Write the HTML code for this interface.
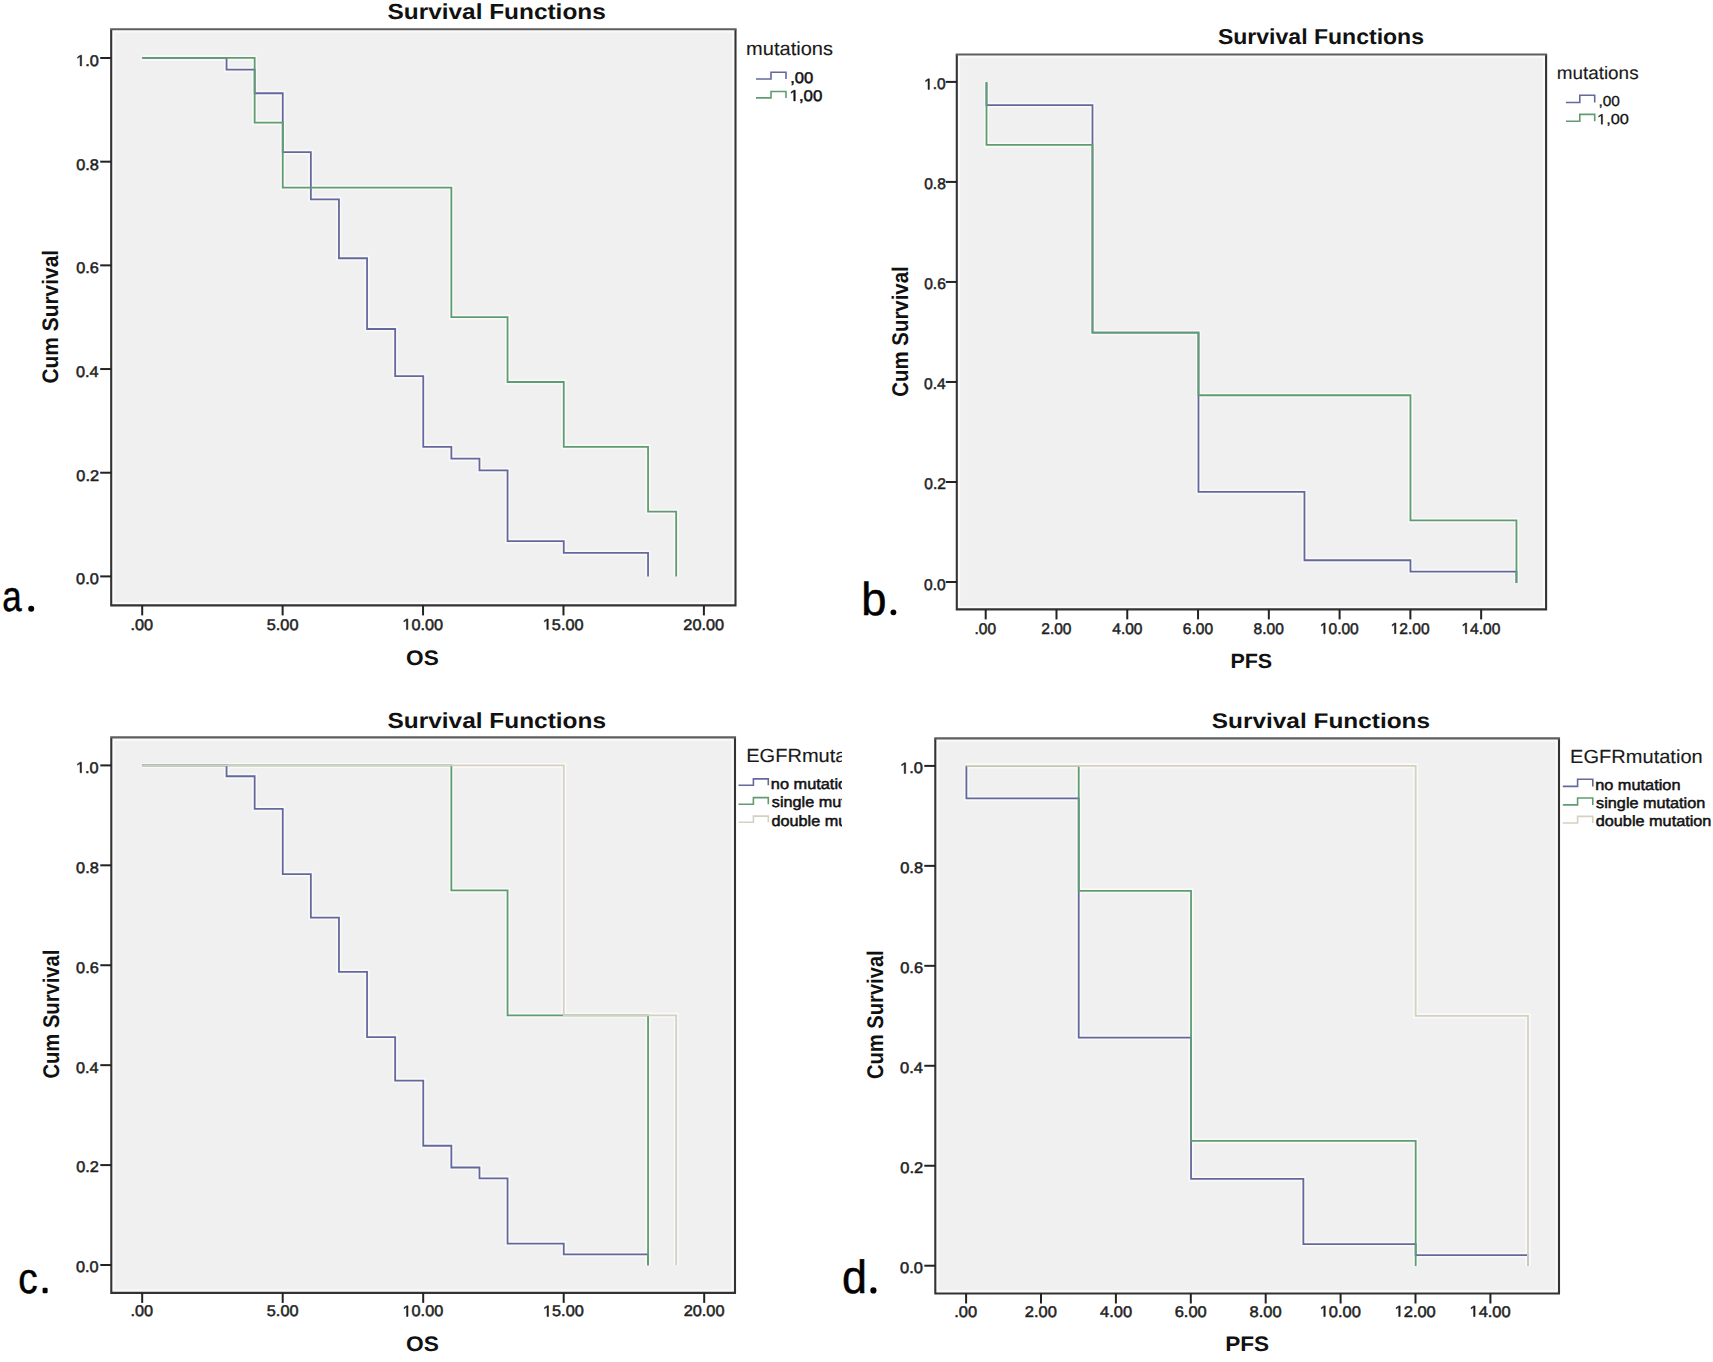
<!DOCTYPE html>
<html><head><meta charset="utf-8"><title>Survival Functions</title>
<style>
html,body{margin:0;padding:0;background:#fff;}
body{width:1713px;height:1362px;overflow:hidden;}
svg{display:block;}
text{font-family:"Liberation Sans",sans-serif;text-rendering:geometricPrecision;}
</style></head><body>
<svg width="1713" height="1362" viewBox="0 0 1713 1362">
<rect width="1713" height="1362" fill="#fff"/>
<defs><clipPath id="clipc"><rect x="736" y="740" width="106" height="100"/></clipPath></defs>
<rect x="111.2" y="29.2" width="624.3" height="576.1999999999999" fill="#fafafa"/>
<rect x="114.50" y="32.50" width="617.70" height="569.60" fill="#f0f0f0"/>
<path d="M142.26,57.90H226.56V69.69H254.66V93.26H282.76V152.19H310.86V199.34H338.96V258.27H367.06V328.99H395.16V376.13H423.26V446.85H451.36V458.64H479.46V470.42H507.56V541.14H563.76V552.93H648.06V576.50" fill="none" stroke="#f8f9f8" stroke-width="5" stroke-linejoin="miter"/>
<path d="M142.26,57.90H254.66V122.72H282.76V187.55H451.36V317.20H507.56V382.02H563.76V446.85H648.06V511.68H676.16V576.50" fill="none" stroke="#f8f9f8" stroke-width="5" stroke-linejoin="miter"/>
<path d="M142.26,57.90H226.56V69.69H254.66V93.26H282.76V152.19H310.86V199.34H338.96V258.27H367.06V328.99H395.16V376.13H423.26V446.85H451.36V458.64H479.46V470.42H507.56V541.14H563.76V552.93H648.06V576.50" fill="none" stroke="#64699d" stroke-width="1.8" stroke-linejoin="miter" stroke-linecap="butt"/>
<path d="M142.26,57.90H254.66V122.72H282.76V187.55H451.36V317.20H507.56V382.02H563.76V446.85H648.06V511.68H676.16V576.50" fill="none" stroke="#5f9d70" stroke-width="1.8" stroke-linejoin="miter" stroke-linecap="butt"/>
<path d="M111.2,29.2V605.4H735.5V29.2" fill="none" stroke="#333" stroke-width="2.1" stroke-linejoin="miter"/>
<line x1="110.15" y1="29.2" x2="736.55" y2="29.2" stroke="#5e5e5e" stroke-width="2.1"/>
<line x1="100.2" y1="576.40" x2="111.2" y2="576.40" stroke="#222" stroke-width="2"/>
<text x="0" y="0" transform="translate(76.08,584.30) scale(1.0600,1)" font-size="15.40" font-weight="normal" fill="#1e1e1e" stroke="#1e1e1e" stroke-width="0.5" >0.0</text>
<line x1="100.2" y1="472.72" x2="111.2" y2="472.72" stroke="#222" stroke-width="2"/>
<text x="0" y="0" transform="translate(76.33,480.62) scale(1.0600,1)" font-size="15.40" font-weight="normal" fill="#1e1e1e" stroke="#1e1e1e" stroke-width="0.5" >0.2</text>
<line x1="100.2" y1="369.04" x2="111.2" y2="369.04" stroke="#222" stroke-width="2"/>
<text x="0" y="0" transform="translate(76.00,376.94) scale(1.0600,1)" font-size="15.40" font-weight="normal" fill="#1e1e1e" stroke="#1e1e1e" stroke-width="0.5" >0.4</text>
<line x1="100.2" y1="265.36" x2="111.2" y2="265.36" stroke="#222" stroke-width="2"/>
<text x="0" y="0" transform="translate(76.16,273.26) scale(1.0600,1)" font-size="15.40" font-weight="normal" fill="#1e1e1e" stroke="#1e1e1e" stroke-width="0.5" >0.6</text>
<line x1="100.2" y1="161.68" x2="111.2" y2="161.68" stroke="#222" stroke-width="2"/>
<text x="0" y="0" transform="translate(76.16,169.58) scale(1.0600,1)" font-size="15.40" font-weight="normal" fill="#1e1e1e" stroke="#1e1e1e" stroke-width="0.5" >0.8</text>
<line x1="100.2" y1="58.00" x2="111.2" y2="58.00" stroke="#222" stroke-width="2"/>
<text x="0" y="0" transform="translate(76.08,65.90) scale(1.0600,1)" font-size="15.40" fill="#1e1e1e" stroke="#1e1e1e" stroke-width="0.5" > .0</text>
<path d="M696,0H515V1237L197,1010V1180L530,1409H696Z" transform="translate(76.08,65.90) scale(0.00797,-0.00752)" fill="#1e1e1e" stroke="#1e1e1e" stroke-width="0.5" vector-effect="non-scaling-stroke"/>
<line x1="142.20" y1="605.4" x2="142.20" y2="615.4" stroke="#222" stroke-width="2"/>
<text x="0" y="0" transform="translate(130.41,629.60) scale(1.0600,1)" font-size="15.40" font-weight="normal" fill="#1e1e1e" stroke="#1e1e1e" stroke-width="0.5" >.00</text>
<line x1="282.62" y1="605.4" x2="282.62" y2="615.4" stroke="#222" stroke-width="2"/>
<text x="0" y="0" transform="translate(266.71,629.60) scale(1.0600,1)" font-size="15.40" font-weight="normal" fill="#1e1e1e" stroke="#1e1e1e" stroke-width="0.5" >5.00</text>
<line x1="423.05" y1="605.4" x2="423.05" y2="615.4" stroke="#222" stroke-width="2"/>
<text x="0" y="0" transform="translate(402.32,629.60) scale(1.0600,1)" font-size="15.40" fill="#1e1e1e" stroke="#1e1e1e" stroke-width="0.5" > 0.00</text>
<path d="M696,0H515V1237L197,1010V1180L530,1409H696Z" transform="translate(402.32,629.60) scale(0.00797,-0.00752)" fill="#1e1e1e" stroke="#1e1e1e" stroke-width="0.5" vector-effect="non-scaling-stroke"/>
<line x1="563.48" y1="605.4" x2="563.48" y2="615.4" stroke="#222" stroke-width="2"/>
<text x="0" y="0" transform="translate(542.74,629.60) scale(1.0600,1)" font-size="15.40" fill="#1e1e1e" stroke="#1e1e1e" stroke-width="0.5" > 5.00</text>
<path d="M696,0H515V1237L197,1010V1180L530,1409H696Z" transform="translate(542.74,629.60) scale(0.00797,-0.00752)" fill="#1e1e1e" stroke="#1e1e1e" stroke-width="0.5" vector-effect="non-scaling-stroke"/>
<line x1="703.90" y1="605.4" x2="703.90" y2="615.4" stroke="#222" stroke-width="2"/>
<text x="0" y="0" transform="translate(683.37,629.60) scale(1.0600,1)" font-size="15.40" font-weight="normal" fill="#1e1e1e" stroke="#1e1e1e" stroke-width="0.5" >20.00</text>
<text x="0" y="0" transform="translate(387.47,18.78) scale(1.1211,1)" font-size="21.77" font-weight="bold" fill="#111" >Survival Functions</text>
<text x="0" y="0" transform="translate(406.09,665.19) scale(1.0782,1)" font-size="20.99" font-weight="bold" fill="#111" >OS</text>
<text x="0" y="0" transform="translate(57.98,383.54) rotate(-90) scale(0.9320,1)" font-size="22.45" font-weight="bold" fill="#111">Cum Survival</text>
<text x="0" y="0" transform="translate(746.10,54.60) scale(1.0551,1)" font-size="19.00" font-weight="normal" fill="#1a1a1a" stroke="#1a1a1a" stroke-width="0.12" >mutations</text>
<path d="M756,79H771V72.3H786V79" fill="none" stroke="#64699d" stroke-width="1.6"/>
<text x="0" y="0" transform="translate(790.21,82.80) scale(1.0710,1)" font-size="15.50" font-weight="normal" fill="#111" stroke="#111" stroke-width="0.5" >,00</text>
<path d="M756,97.9H771V91.5H786V97.9" fill="none" stroke="#5f9d70" stroke-width="1.6"/>
<text x="0" y="0" transform="translate(789.54,100.90) scale(1.0864,1)" font-size="15.50" fill="#111" stroke="#111" stroke-width="0.5" > ,00</text>
<path d="M696,0H515V1237L197,1010V1180L530,1409H696Z" transform="translate(789.54,100.90) scale(0.00822,-0.00757)" fill="#111" stroke="#111" stroke-width="0.5" vector-effect="non-scaling-stroke"/>
<text x="0" y="0" transform="translate(2.20,611.17) scale(0.8215,1)" font-size="42.55" font-weight="normal" fill="#000" stroke="#000" stroke-width="0.5" >a</text>
<circle cx="31.2" cy="608.65" r="3.0" fill="#000"/>
<rect x="956.8" y="54.5" width="589.3" height="554.9" fill="#fafafa"/>
<rect x="960.10" y="57.80" width="582.70" height="548.30" fill="#f0f0f0"/>
<path d="M986.50,82.30H986.50V105.06H1092.49V332.65H1198.48V491.96H1304.47V560.24H1410.46V571.62H1516.45V583.00" fill="none" stroke="#f8f9f8" stroke-width="5" stroke-linejoin="miter"/>
<path d="M986.50,82.30H986.50V144.89H1092.49V332.65H1198.48V395.24H1410.46V520.41H1516.45V583.00" fill="none" stroke="#f8f9f8" stroke-width="5" stroke-linejoin="miter"/>
<path d="M986.50,82.30H986.50V105.06H1092.49V332.65H1198.48V491.96H1304.47V560.24H1410.46V571.62H1516.45V583.00" fill="none" stroke="#64699d" stroke-width="1.8" stroke-linejoin="miter" stroke-linecap="butt"/>
<path d="M986.50,82.30H986.50V144.89H1092.49V332.65H1198.48V395.24H1410.46V520.41H1516.45V583.00" fill="none" stroke="#5f9d70" stroke-width="1.8" stroke-linejoin="miter" stroke-linecap="butt"/>
<path d="M956.8,54.5V609.4H1546.1V54.5" fill="none" stroke="#333" stroke-width="2.1" stroke-linejoin="miter"/>
<line x1="955.75" y1="54.5" x2="1547.15" y2="54.5" stroke="#5e5e5e" stroke-width="2.1"/>
<line x1="945.8" y1="582.00" x2="956.8" y2="582.00" stroke="#222" stroke-width="2"/>
<text x="0" y="0" transform="translate(924.12,589.50) scale(1.0100,1)" font-size="15.40" font-weight="normal" fill="#1e1e1e" stroke="#1e1e1e" stroke-width="0.5" >0.0</text>
<line x1="945.8" y1="481.98" x2="956.8" y2="481.98" stroke="#222" stroke-width="2"/>
<text x="0" y="0" transform="translate(924.36,489.48) scale(1.0100,1)" font-size="15.40" font-weight="normal" fill="#1e1e1e" stroke="#1e1e1e" stroke-width="0.5" >0.2</text>
<line x1="945.8" y1="381.96" x2="956.8" y2="381.96" stroke="#222" stroke-width="2"/>
<text x="0" y="0" transform="translate(924.05,389.46) scale(1.0100,1)" font-size="15.40" font-weight="normal" fill="#1e1e1e" stroke="#1e1e1e" stroke-width="0.5" >0.4</text>
<line x1="945.8" y1="281.94" x2="956.8" y2="281.94" stroke="#222" stroke-width="2"/>
<text x="0" y="0" transform="translate(924.20,289.44) scale(1.0100,1)" font-size="15.40" font-weight="normal" fill="#1e1e1e" stroke="#1e1e1e" stroke-width="0.5" >0.6</text>
<line x1="945.8" y1="181.92" x2="956.8" y2="181.92" stroke="#222" stroke-width="2"/>
<text x="0" y="0" transform="translate(924.20,189.42) scale(1.0100,1)" font-size="15.40" font-weight="normal" fill="#1e1e1e" stroke="#1e1e1e" stroke-width="0.5" >0.8</text>
<line x1="945.8" y1="81.90" x2="956.8" y2="81.90" stroke="#222" stroke-width="2"/>
<text x="0" y="0" transform="translate(924.12,89.40) scale(1.0100,1)" font-size="15.40" fill="#1e1e1e" stroke="#1e1e1e" stroke-width="0.5" > .0</text>
<path d="M696,0H515V1237L197,1010V1180L530,1409H696Z" transform="translate(924.12,89.40) scale(0.00759,-0.00752)" fill="#1e1e1e" stroke="#1e1e1e" stroke-width="0.5" vector-effect="non-scaling-stroke"/>
<line x1="985.70" y1="609.4" x2="985.70" y2="619.4" stroke="#222" stroke-width="2"/>
<text x="0" y="0" transform="translate(974.46,633.70) scale(1.0100,1)" font-size="15.40" font-weight="normal" fill="#1e1e1e" stroke="#1e1e1e" stroke-width="0.5" >.00</text>
<line x1="1056.48" y1="609.4" x2="1056.48" y2="619.4" stroke="#222" stroke-width="2"/>
<text x="0" y="0" transform="translate(1041.24,633.70) scale(1.0100,1)" font-size="15.40" font-weight="normal" fill="#1e1e1e" stroke="#1e1e1e" stroke-width="0.5" >2.00</text>
<line x1="1127.26" y1="609.4" x2="1127.26" y2="619.4" stroke="#222" stroke-width="2"/>
<text x="0" y="0" transform="translate(1112.25,633.70) scale(1.0100,1)" font-size="15.40" font-weight="normal" fill="#1e1e1e" stroke="#1e1e1e" stroke-width="0.5" >4.00</text>
<line x1="1198.04" y1="609.4" x2="1198.04" y2="619.4" stroke="#222" stroke-width="2"/>
<text x="0" y="0" transform="translate(1182.80,633.70) scale(1.0100,1)" font-size="15.40" font-weight="normal" fill="#1e1e1e" stroke="#1e1e1e" stroke-width="0.5" >6.00</text>
<line x1="1268.82" y1="609.4" x2="1268.82" y2="619.4" stroke="#222" stroke-width="2"/>
<text x="0" y="0" transform="translate(1253.62,633.70) scale(1.0100,1)" font-size="15.40" font-weight="normal" fill="#1e1e1e" stroke="#1e1e1e" stroke-width="0.5" >8.00</text>
<line x1="1339.60" y1="609.4" x2="1339.60" y2="619.4" stroke="#222" stroke-width="2"/>
<text x="0" y="0" transform="translate(1319.85,633.70) scale(1.0100,1)" font-size="15.40" fill="#1e1e1e" stroke="#1e1e1e" stroke-width="0.5" > 0.00</text>
<path d="M696,0H515V1237L197,1010V1180L530,1409H696Z" transform="translate(1319.85,633.70) scale(0.00759,-0.00752)" fill="#1e1e1e" stroke="#1e1e1e" stroke-width="0.5" vector-effect="non-scaling-stroke"/>
<line x1="1410.38" y1="609.4" x2="1410.38" y2="619.4" stroke="#222" stroke-width="2"/>
<text x="0" y="0" transform="translate(1390.63,633.70) scale(1.0100,1)" font-size="15.40" fill="#1e1e1e" stroke="#1e1e1e" stroke-width="0.5" > 2.00</text>
<path d="M696,0H515V1237L197,1010V1180L530,1409H696Z" transform="translate(1390.63,633.70) scale(0.00759,-0.00752)" fill="#1e1e1e" stroke="#1e1e1e" stroke-width="0.5" vector-effect="non-scaling-stroke"/>
<line x1="1481.16" y1="609.4" x2="1481.16" y2="619.4" stroke="#222" stroke-width="2"/>
<text x="0" y="0" transform="translate(1461.41,633.70) scale(1.0100,1)" font-size="15.40" fill="#1e1e1e" stroke="#1e1e1e" stroke-width="0.5" > 4.00</text>
<path d="M696,0H515V1237L197,1010V1180L530,1409H696Z" transform="translate(1461.41,633.70) scale(0.00759,-0.00752)" fill="#1e1e1e" stroke="#1e1e1e" stroke-width="0.5" vector-effect="non-scaling-stroke"/>
<text x="0" y="0" transform="translate(1217.91,44.18) scale(1.0652,1)" font-size="21.63" font-weight="bold" fill="#111" >Survival Functions</text>
<text x="0" y="0" transform="translate(1230.40,667.89) scale(1.0464,1)" font-size="20.56" font-weight="bold" fill="#111" >PFS</text>
<text x="0" y="0" transform="translate(908.27,396.72) rotate(-90) scale(0.8984,1)" font-size="22.72" font-weight="bold" fill="#111">Cum Survival</text>
<text x="0" y="0" transform="translate(1556.67,78.50) scale(1.0495,1)" font-size="18.00" font-weight="normal" fill="#1a1a1a" stroke="#1a1a1a" stroke-width="0.12" >mutations</text>
<path d="M1566,102.5H1579.8V95.3H1594.7V102.5" fill="none" stroke="#64699d" stroke-width="1.6"/>
<text x="0" y="0" transform="translate(1598.41,106.30) scale(1.0631,1)" font-size="14.50" font-weight="normal" fill="#111" stroke="#111" stroke-width="0.25" >,00</text>
<path d="M1566,121.3H1579.8V114.4H1594.7V121.3" fill="none" stroke="#5f9d70" stroke-width="1.6"/>
<text x="0" y="0" transform="translate(1597.07,124.30) scale(1.1275,1)" font-size="14.50" fill="#111" stroke="#111" stroke-width="0.25" > ,00</text>
<path d="M696,0H515V1237L197,1010V1180L530,1409H696Z" transform="translate(1597.07,124.30) scale(0.00798,-0.00708)" fill="#111" stroke="#111" stroke-width="0.25" vector-effect="non-scaling-stroke"/>
<text x="0" y="0" transform="translate(861.25,614.74) scale(0.9800,1)" font-size="46.26" font-weight="normal" fill="#000" stroke="#000" stroke-width="0.5" >b</text>
<circle cx="893.4" cy="612.3" r="2.9" fill="#000"/>
<rect x="111.3" y="737.4" width="623.7" height="555.5000000000001" fill="#fafafa"/>
<rect x="114.60" y="740.70" width="617.10" height="548.90" fill="#f0f0f0"/>
<path d="M142.26,765.40H226.56V776.27H254.66V808.87H282.76V874.07H310.86V917.54H338.96V971.88H367.06V1037.08H395.16V1080.55H423.26V1145.76H451.36V1167.49H479.46V1178.36H507.56V1243.57H563.76V1254.43H648.06V1265.30" fill="none" stroke="#f8f9f8" stroke-width="5" stroke-linejoin="miter"/>
<path d="M142.26,765.40H451.36V890.38H507.56V1015.35H648.06V1265.30" fill="none" stroke="#f8f9f8" stroke-width="5" stroke-linejoin="miter"/>
<path d="M142.26,765.40H563.76V1015.35H676.16V1265.30" fill="none" stroke="#f8f9f8" stroke-width="5" stroke-linejoin="miter"/>
<path d="M142.26,765.40H226.56V776.27H254.66V808.87H282.76V874.07H310.86V917.54H338.96V971.88H367.06V1037.08H395.16V1080.55H423.26V1145.76H451.36V1167.49H479.46V1178.36H507.56V1243.57H563.76V1254.43H648.06V1265.30" fill="none" stroke="#64699d" stroke-width="1.8" stroke-linejoin="miter" stroke-linecap="butt"/>
<path d="M142.26,765.40H451.36V890.38H507.56V1015.35H648.06V1265.30" fill="none" stroke="#5f9d70" stroke-width="1.8" stroke-linejoin="miter" stroke-linecap="butt"/>
<path d="M142.26,765.40H563.76V1015.35H676.16V1265.30" fill="none" stroke="#d5d1c0" stroke-width="1.8" stroke-linejoin="miter" stroke-linecap="butt"/>
<path d="M111.3,737.4V1292.9H735.0V737.4" fill="none" stroke="#333" stroke-width="2.1" stroke-linejoin="miter"/>
<line x1="110.25" y1="737.4" x2="736.05" y2="737.4" stroke="#5e5e5e" stroke-width="2.1"/>
<line x1="100.3" y1="1265.00" x2="111.3" y2="1265.00" stroke="#222" stroke-width="2"/>
<text x="0" y="0" transform="translate(75.98,1272.40) scale(1.0600,1)" font-size="15.40" font-weight="normal" fill="#1e1e1e" stroke="#1e1e1e" stroke-width="0.5" >0.0</text>
<line x1="100.3" y1="1165.08" x2="111.3" y2="1165.08" stroke="#222" stroke-width="2"/>
<text x="0" y="0" transform="translate(76.23,1172.48) scale(1.0600,1)" font-size="15.40" font-weight="normal" fill="#1e1e1e" stroke="#1e1e1e" stroke-width="0.5" >0.2</text>
<line x1="100.3" y1="1065.16" x2="111.3" y2="1065.16" stroke="#222" stroke-width="2"/>
<text x="0" y="0" transform="translate(75.90,1072.56) scale(1.0600,1)" font-size="15.40" font-weight="normal" fill="#1e1e1e" stroke="#1e1e1e" stroke-width="0.5" >0.4</text>
<line x1="100.3" y1="965.24" x2="111.3" y2="965.24" stroke="#222" stroke-width="2"/>
<text x="0" y="0" transform="translate(76.06,972.64) scale(1.0600,1)" font-size="15.40" font-weight="normal" fill="#1e1e1e" stroke="#1e1e1e" stroke-width="0.5" >0.6</text>
<line x1="100.3" y1="865.32" x2="111.3" y2="865.32" stroke="#222" stroke-width="2"/>
<text x="0" y="0" transform="translate(76.06,872.72) scale(1.0600,1)" font-size="15.40" font-weight="normal" fill="#1e1e1e" stroke="#1e1e1e" stroke-width="0.5" >0.8</text>
<line x1="100.3" y1="765.40" x2="111.3" y2="765.40" stroke="#222" stroke-width="2"/>
<text x="0" y="0" transform="translate(75.98,772.80) scale(1.0600,1)" font-size="15.40" fill="#1e1e1e" stroke="#1e1e1e" stroke-width="0.5" > .0</text>
<path d="M696,0H515V1237L197,1010V1180L530,1409H696Z" transform="translate(75.98,772.80) scale(0.00797,-0.00752)" fill="#1e1e1e" stroke="#1e1e1e" stroke-width="0.5" vector-effect="non-scaling-stroke"/>
<line x1="142.20" y1="1292.9" x2="142.20" y2="1302.9" stroke="#222" stroke-width="2"/>
<text x="0" y="0" transform="translate(130.41,1316.40) scale(1.0600,1)" font-size="15.40" font-weight="normal" fill="#1e1e1e" stroke="#1e1e1e" stroke-width="0.5" >.00</text>
<line x1="282.70" y1="1292.9" x2="282.70" y2="1302.9" stroke="#222" stroke-width="2"/>
<text x="0" y="0" transform="translate(266.78,1316.40) scale(1.0600,1)" font-size="15.40" font-weight="normal" fill="#1e1e1e" stroke="#1e1e1e" stroke-width="0.5" >5.00</text>
<line x1="423.20" y1="1292.9" x2="423.20" y2="1302.9" stroke="#222" stroke-width="2"/>
<text x="0" y="0" transform="translate(402.47,1316.40) scale(1.0600,1)" font-size="15.40" fill="#1e1e1e" stroke="#1e1e1e" stroke-width="0.5" > 0.00</text>
<path d="M696,0H515V1237L197,1010V1180L530,1409H696Z" transform="translate(402.47,1316.40) scale(0.00797,-0.00752)" fill="#1e1e1e" stroke="#1e1e1e" stroke-width="0.5" vector-effect="non-scaling-stroke"/>
<line x1="563.70" y1="1292.9" x2="563.70" y2="1302.9" stroke="#222" stroke-width="2"/>
<text x="0" y="0" transform="translate(542.97,1316.40) scale(1.0600,1)" font-size="15.40" fill="#1e1e1e" stroke="#1e1e1e" stroke-width="0.5" > 5.00</text>
<path d="M696,0H515V1237L197,1010V1180L530,1409H696Z" transform="translate(542.97,1316.40) scale(0.00797,-0.00752)" fill="#1e1e1e" stroke="#1e1e1e" stroke-width="0.5" vector-effect="non-scaling-stroke"/>
<line x1="704.20" y1="1292.9" x2="704.20" y2="1302.9" stroke="#222" stroke-width="2"/>
<text x="0" y="0" transform="translate(683.67,1316.40) scale(1.0600,1)" font-size="15.40" font-weight="normal" fill="#1e1e1e" stroke="#1e1e1e" stroke-width="0.5" >20.00</text>
<text x="0" y="0" transform="translate(387.47,727.88) scale(1.1222,1)" font-size="21.77" font-weight="bold" fill="#111" >Survival Functions</text>
<text x="0" y="0" transform="translate(405.99,1350.79) scale(1.0852,1)" font-size="20.99" font-weight="bold" fill="#111" >OS</text>
<text x="0" y="0" transform="translate(58.77,1078.51) rotate(-90) scale(0.8872,1)" font-size="22.72" font-weight="bold" fill="#111">Cum Survival</text>
<g clip-path="url(#clipc)">
<text x="0" y="0" transform="translate(746.20,762.20) scale(1.0551,1)" font-size="19.00" font-weight="normal" fill="#1a1a1a" stroke="#1a1a1a" stroke-width="0.12" >EGFRmutation</text>
<path d="M738.5,785.3H753.4V778.9H768.3V785.3" fill="none" stroke="#64699d" stroke-width="1.6"/>
<text x="0" y="0" transform="translate(770.84,788.90) scale(1.0886,1)" font-size="15.00" font-weight="normal" fill="#111" stroke="#111" stroke-width="0.5" >no mutation</text>
<path d="M738.5,804.3H753.4V797.6H768.3V804.3" fill="none" stroke="#5f9d70" stroke-width="1.6"/>
<text x="0" y="0" transform="translate(771.81,806.90) scale(1.0820,1)" font-size="15.00" font-weight="normal" fill="#111" stroke="#111" stroke-width="0.5" >single mutation</text>
<path d="M738.5,822.3H753.4V816.1H768.3V822.3" fill="none" stroke="#d5d1c0" stroke-width="1.6"/>
<text x="0" y="0" transform="translate(771.45,825.60) scale(1.0832,1)" font-size="15.00" font-weight="normal" fill="#111" stroke="#111" stroke-width="0.5" >double mutation</text>
</g>
<text x="0" y="0" transform="translate(18.35,1292.97) scale(0.9054,1)" font-size="42.91" font-weight="normal" fill="#000" stroke="#000" stroke-width="0.5" >c</text>
<rect x="42.6" y="1287.8" width="5.0" height="5.5" rx="1.2" fill="#000"/>
<rect x="935.3" y="738.4" width="623.7" height="555.1" fill="#fafafa"/>
<rect x="938.60" y="741.70" width="617.10" height="548.50" fill="#f0f0f0"/>
<path d="M966.40,765.80H966.40V798.42H1078.72V1037.59H1191.04V1178.93H1303.36V1244.16H1415.68V1255.03H1528.00V1265.90" fill="none" stroke="#f8f9f8" stroke-width="5" stroke-linejoin="miter"/>
<path d="M966.40,765.80H1078.72V890.83H1191.04V1140.88H1415.68V1265.90" fill="none" stroke="#f8f9f8" stroke-width="5" stroke-linejoin="miter"/>
<path d="M966.40,765.80H1415.68V1015.85H1528.00V1265.90" fill="none" stroke="#f8f9f8" stroke-width="5" stroke-linejoin="miter"/>
<path d="M966.40,765.80H966.40V798.42H1078.72V1037.59H1191.04V1178.93H1303.36V1244.16H1415.68V1255.03H1528.00V1265.90" fill="none" stroke="#64699d" stroke-width="1.8" stroke-linejoin="miter" stroke-linecap="butt"/>
<path d="M966.40,765.80H1078.72V890.83H1191.04V1140.88H1415.68V1265.90" fill="none" stroke="#5f9d70" stroke-width="1.8" stroke-linejoin="miter" stroke-linecap="butt"/>
<path d="M966.40,765.80H1415.68V1015.85H1528.00V1265.90" fill="none" stroke="#d5d1c0" stroke-width="1.8" stroke-linejoin="miter" stroke-linecap="butt"/>
<path d="M935.3,738.4V1293.5H1559.0V738.4" fill="none" stroke="#333" stroke-width="2.1" stroke-linejoin="miter"/>
<line x1="934.25" y1="738.4" x2="1560.05" y2="738.4" stroke="#5e5e5e" stroke-width="2.1"/>
<line x1="924.3" y1="1265.70" x2="935.3" y2="1265.70" stroke="#222" stroke-width="2"/>
<text x="0" y="0" transform="translate(900.07,1273.20) scale(1.0700,1)" font-size="15.40" font-weight="normal" fill="#1e1e1e" stroke="#1e1e1e" stroke-width="0.5" >0.0</text>
<line x1="924.3" y1="1165.74" x2="935.3" y2="1165.74" stroke="#222" stroke-width="2"/>
<text x="0" y="0" transform="translate(900.32,1173.24) scale(1.0700,1)" font-size="15.40" font-weight="normal" fill="#1e1e1e" stroke="#1e1e1e" stroke-width="0.5" >0.2</text>
<line x1="924.3" y1="1065.78" x2="935.3" y2="1065.78" stroke="#222" stroke-width="2"/>
<text x="0" y="0" transform="translate(899.99,1073.28) scale(1.0700,1)" font-size="15.40" font-weight="normal" fill="#1e1e1e" stroke="#1e1e1e" stroke-width="0.5" >0.4</text>
<line x1="924.3" y1="965.82" x2="935.3" y2="965.82" stroke="#222" stroke-width="2"/>
<text x="0" y="0" transform="translate(900.15,973.32) scale(1.0700,1)" font-size="15.40" font-weight="normal" fill="#1e1e1e" stroke="#1e1e1e" stroke-width="0.5" >0.6</text>
<line x1="924.3" y1="865.86" x2="935.3" y2="865.86" stroke="#222" stroke-width="2"/>
<text x="0" y="0" transform="translate(900.15,873.36) scale(1.0700,1)" font-size="15.40" font-weight="normal" fill="#1e1e1e" stroke="#1e1e1e" stroke-width="0.5" >0.8</text>
<line x1="924.3" y1="765.90" x2="935.3" y2="765.90" stroke="#222" stroke-width="2"/>
<text x="0" y="0" transform="translate(900.07,773.40) scale(1.0700,1)" font-size="15.40" fill="#1e1e1e" stroke="#1e1e1e" stroke-width="0.5" > .0</text>
<path d="M696,0H515V1237L197,1010V1180L530,1409H696Z" transform="translate(900.07,773.40) scale(0.00805,-0.00752)" fill="#1e1e1e" stroke="#1e1e1e" stroke-width="0.5" vector-effect="non-scaling-stroke"/>
<line x1="966.10" y1="1293.5" x2="966.10" y2="1303.5" stroke="#222" stroke-width="2"/>
<text x="0" y="0" transform="translate(954.19,1316.50) scale(1.0700,1)" font-size="15.40" font-weight="normal" fill="#1e1e1e" stroke="#1e1e1e" stroke-width="0.5" >.00</text>
<line x1="1041.00" y1="1293.5" x2="1041.00" y2="1303.5" stroke="#222" stroke-width="2"/>
<text x="0" y="0" transform="translate(1024.85,1316.50) scale(1.0700,1)" font-size="15.40" font-weight="normal" fill="#1e1e1e" stroke="#1e1e1e" stroke-width="0.5" >2.00</text>
<line x1="1115.90" y1="1293.5" x2="1115.90" y2="1303.5" stroke="#222" stroke-width="2"/>
<text x="0" y="0" transform="translate(1100.00,1316.50) scale(1.0700,1)" font-size="15.40" font-weight="normal" fill="#1e1e1e" stroke="#1e1e1e" stroke-width="0.5" >4.00</text>
<line x1="1190.80" y1="1293.5" x2="1190.80" y2="1303.5" stroke="#222" stroke-width="2"/>
<text x="0" y="0" transform="translate(1174.65,1316.50) scale(1.0700,1)" font-size="15.40" font-weight="normal" fill="#1e1e1e" stroke="#1e1e1e" stroke-width="0.5" >6.00</text>
<line x1="1265.70" y1="1293.5" x2="1265.70" y2="1303.5" stroke="#222" stroke-width="2"/>
<text x="0" y="0" transform="translate(1249.59,1316.50) scale(1.0700,1)" font-size="15.40" font-weight="normal" fill="#1e1e1e" stroke="#1e1e1e" stroke-width="0.5" >8.00</text>
<line x1="1340.60" y1="1293.5" x2="1340.60" y2="1303.5" stroke="#222" stroke-width="2"/>
<text x="0" y="0" transform="translate(1319.67,1316.50) scale(1.0700,1)" font-size="15.40" fill="#1e1e1e" stroke="#1e1e1e" stroke-width="0.5" > 0.00</text>
<path d="M696,0H515V1237L197,1010V1180L530,1409H696Z" transform="translate(1319.67,1316.50) scale(0.00805,-0.00752)" fill="#1e1e1e" stroke="#1e1e1e" stroke-width="0.5" vector-effect="non-scaling-stroke"/>
<line x1="1415.50" y1="1293.5" x2="1415.50" y2="1303.5" stroke="#222" stroke-width="2"/>
<text x="0" y="0" transform="translate(1394.57,1316.50) scale(1.0700,1)" font-size="15.40" fill="#1e1e1e" stroke="#1e1e1e" stroke-width="0.5" > 2.00</text>
<path d="M696,0H515V1237L197,1010V1180L530,1409H696Z" transform="translate(1394.57,1316.50) scale(0.00805,-0.00752)" fill="#1e1e1e" stroke="#1e1e1e" stroke-width="0.5" vector-effect="non-scaling-stroke"/>
<line x1="1490.40" y1="1293.5" x2="1490.40" y2="1303.5" stroke="#222" stroke-width="2"/>
<text x="0" y="0" transform="translate(1469.47,1316.50) scale(1.0700,1)" font-size="15.40" fill="#1e1e1e" stroke="#1e1e1e" stroke-width="0.5" > 4.00</text>
<path d="M696,0H515V1237L197,1010V1180L530,1409H696Z" transform="translate(1469.47,1316.50) scale(0.00805,-0.00752)" fill="#1e1e1e" stroke="#1e1e1e" stroke-width="0.5" vector-effect="non-scaling-stroke"/>
<text x="0" y="0" transform="translate(1211.77,728.29) scale(1.1499,1)" font-size="21.22" font-weight="bold" fill="#111" >Survival Functions</text>
<text x="0" y="0" transform="translate(1225.13,1351.39) scale(1.0770,1)" font-size="20.99" font-weight="bold" fill="#111" >PFS</text>
<text x="0" y="0" transform="translate(882.57,1079.11) rotate(-90) scale(0.8872,1)" font-size="22.72" font-weight="bold" fill="#111">Cum Survival</text>
<text x="0" y="0" transform="translate(1570.10,763.10) scale(1.0551,1)" font-size="19.00" font-weight="normal" fill="#1a1a1a" stroke="#1a1a1a" stroke-width="0.12" >EGFRmutation</text>
<path d="M1562.8,786.4H1577.6V779.2H1592.8V786.4" fill="none" stroke="#64699d" stroke-width="1.6"/>
<text x="0" y="0" transform="translate(1595.14,789.70) scale(1.0886,1)" font-size="15.00" font-weight="normal" fill="#111" stroke="#111" stroke-width="0.5" >no mutation</text>
<path d="M1562.8,804.9H1577.6V798H1592.8V804.9" fill="none" stroke="#5f9d70" stroke-width="1.6"/>
<text x="0" y="0" transform="translate(1596.11,807.80) scale(1.0820,1)" font-size="15.00" font-weight="normal" fill="#111" stroke="#111" stroke-width="0.5" >single mutation</text>
<path d="M1562.8,823H1577.6V816.4H1592.8V823" fill="none" stroke="#d5d1c0" stroke-width="1.6"/>
<text x="0" y="0" transform="translate(1595.75,826.40) scale(1.0832,1)" font-size="15.00" font-weight="normal" fill="#111" stroke="#111" stroke-width="0.5" >double mutation</text>
<text x="0" y="0" transform="translate(842.00,1293.13) scale(0.9619,1)" font-size="46.67" font-weight="normal" fill="#000" stroke="#000" stroke-width="0.5" >d</text>
<circle cx="873.4" cy="1290.4" r="3.1" fill="#000"/>
</svg>
</body></html>
